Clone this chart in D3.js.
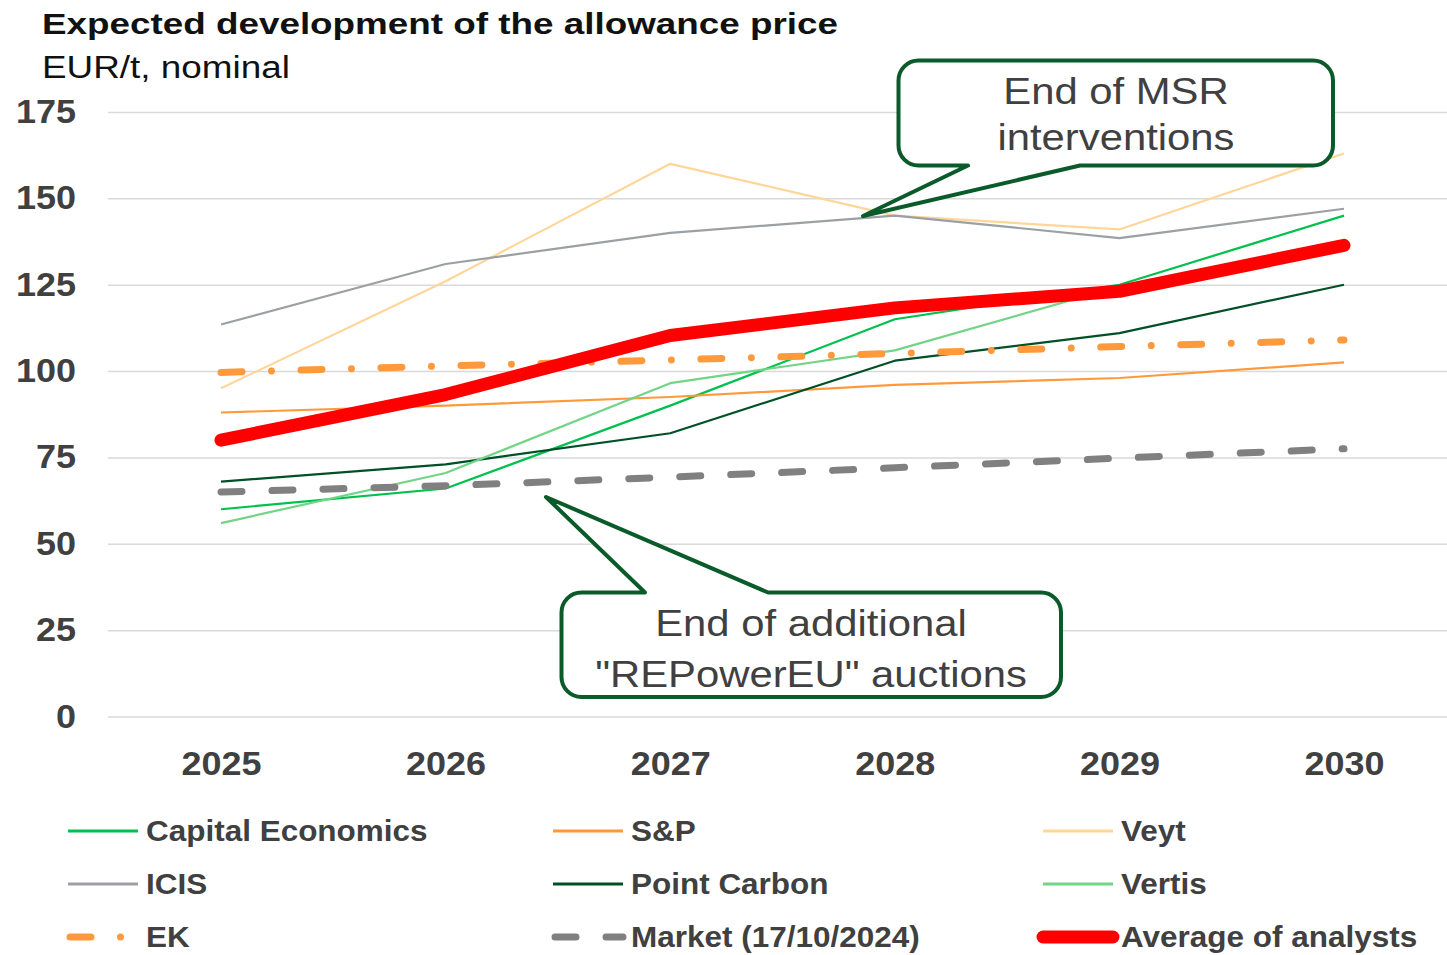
<!DOCTYPE html>
<html>
<head>
<meta charset="utf-8">
<script src="https://cdn.jsdelivr.net/npm/d3@7"></script>
<style>
  body { margin: 0; background: #fff; }
  svg { display: block; font-family: "Liberation Sans", Arial, sans-serif; }
</style>
</head>
<body>
<svg id="chart" width="1447" height="955"></svg>
<script>
// data
const years = ['2025', '2026', '2027', '2028', '2029', '2030'];
const yTicks = [0, 25, 50, 75, 100, 125, 150, 175];

const capitalEconomics = [60, 66, 90, 115, 125, 145];
const sAndP = [88, 90, 92.5, 96, 98, 102.5];
const veyt = [95, 126, 160, 145, 141, 163];
const icis = [113.5, 131, 140, 145, 138.5, 147];
const pointCarbon = [68, 73, 82, 103, 111, 125];
const vertis = [56, 70.5, 96.5, 106, 124.5, null];
const ek = [99.6, 101.5, 103.2, 105.1, 107.1, 109];
const market = [65, 66.8, 69.3, 72, 74.8, 77.5];
const average = [80, 93.2, 110.3, 118.3, 123.1, 136.4];

const seriesNames = ['Capital Economics', 'S&P', 'Veyt', 'ICIS', 'Point Carbon', 'Vertis',
  'EK', 'Market (17/10/2024)', 'Average of analysts'];

const series = [
  { name: seriesNames[0], values: capitalEconomics, color: '#00c04e', width: 2.2 },
  { name: seriesNames[1], values: sAndP, color: '#ff9a3c', width: 2.2 },
  { name: seriesNames[2], values: veyt, color: '#ffd699', width: 2.2 },
  { name: seriesNames[3], values: icis, color: '#9ba0a5', width: 2.2 },
  { name: seriesNames[4], values: pointCarbon, color: '#005027', width: 2.2 },
  { name: seriesNames[5], values: vertis, color: '#72d485', width: 2.2 },
  { name: seriesNames[6], values: ek, color: '#ff9a3c', width: 7, dash: '21,29.5,0.01,29.5' },
  { name: seriesNames[7], values: market, color: '#808080', width: 7, dash: '21,30' },
  { name: seriesNames[8], values: average, color: '#ff0000', width: 13 }
];

const svg = d3.select('#chart');
const textColor = '#404040';

// stretch text a bit wider, like the reference
function stretch(sel, k) {
  sel.each(function() {
    const w = this.getComputedTextLength();
    d3.select(this).attr('textLength', w * k).attr('lengthAdjust', 'spacingAndGlyphs');
  });
}

// scales
const x = d3.scalePoint().domain(years).range([221, 1344]);
const y = d3.scaleLinear().domain([0, 175]).range([716.5, 112]);

// title
svg.append('text')
  .attr('x', 42).attr('y', 34)
  .attr('font-size', 29).attr('font-weight', 'bold').attr('fill', '#111')
  .attr('textLength', 796).attr('lengthAdjust', 'spacingAndGlyphs')
  .text('Expected development of the allowance price');

svg.append('text')
  .attr('x', 42).attr('y', 78)
  .attr('font-size', 31).attr('fill', '#111')
  .attr('textLength', 248).attr('lengthAdjust', 'spacingAndGlyphs')
  .text('EUR/t, nominal');

// y axis + gridlines
const yAxis = svg.append('g')
  .attr('transform', 'translate(108,0)')
  .call(d3.axisLeft(y).tickValues(yTicks).tickSize(-1350).tickPadding(32));
yAxis.select('.domain').remove();
yAxis.selectAll('.tick line').attr('stroke', '#d9d9d9').attr('stroke-width', 1.5);
yAxis.selectAll('.tick text')
  .attr('font-size', 33).attr('font-weight', 'bold').attr('fill', textColor)
  .attr('font-family', '"Liberation Sans", Arial, sans-serif')
  .call(stretch, 1.09);

// x axis
const xAxis = svg.append('g')
  .attr('transform', 'translate(0,716.5)')
  .call(d3.axisBottom(x).tickSize(0).tickPadding(35));
xAxis.select('.domain').remove();
xAxis.selectAll('.tick text')
  .attr('font-size', 33).attr('font-weight', 'bold').attr('fill', textColor)
  .attr('font-family', '"Liberation Sans", Arial, sans-serif')
  .call(stretch, 1.09);

// lines
const line = d3.line()
  .defined(d => d != null)
  .x((d, i) => x(years[i]))
  .y(d => y(d));

svg.append('g')
  .selectAll('path')
  .data(series)
  .enter().append('path')
  .attr('d', d => line(d.values))
  .attr('fill', 'none')
  .attr('stroke', d => d.color)
  .attr('stroke-width', d => d.width)
  .attr('stroke-dasharray', d => d.dash || null)
  .attr('stroke-linecap', d => (d.dash || d.width > 10) ? 'round' : 'butt')
  .attr('stroke-linejoin', 'round');

// callouts
const calloutStroke = '#0b5a2a';

function calloutBottom(x0, y0, x1, y1, r, b1, b2, tip) {
  return `M${x0 + r},${y0} H${x1 - r} A${r},${r} 0 0 1 ${x1},${y0 + r} V${y1 - r}` +
    ` A${r},${r} 0 0 1 ${x1 - r},${y1} H${b2} L${tip[0]},${tip[1]} L${b1},${y1}` +
    ` H${x0 + r} A${r},${r} 0 0 1 ${x0},${y1 - r} V${y0 + r} A${r},${r} 0 0 1 ${x0 + r},${y0} Z`;
}

function calloutTop(x0, y0, x1, y1, r, b1, b2, tip) {
  return `M${x0 + r},${y0} H${b1} L${tip[0]},${tip[1]} L${b2},${y0} H${x1 - r}` +
    ` A${r},${r} 0 0 1 ${x1},${y0 + r} V${y1 - r} A${r},${r} 0 0 1 ${x1 - r},${y1}` +
    ` H${x0 + r} A${r},${r} 0 0 1 ${x0},${y1 - r} V${y0 + r} A${r},${r} 0 0 1 ${x0 + r},${y0} Z`;
}

svg.append('path')
  .attr('d', calloutBottom(898.5, 60.5, 1333, 165.5, 20, 968, 1080, [863, 216]))
  .attr('fill', '#fff').attr('stroke', calloutStroke).attr('stroke-width', 4)
  .attr('stroke-linejoin', 'round');

svg.append('path')
  .attr('d', calloutTop(561.5, 592.5, 1061, 697, 20, 645, 768, [546, 497]))
  .attr('fill', '#fff').attr('stroke', calloutStroke).attr('stroke-width', 4)
  .attr('stroke-linejoin', 'round');

const callText = [
  { text: 'End of MSR', x: 1116, y: 103.5 },
  { text: 'interventions', x: 1116, y: 150 },
  { text: 'End of additional', x: 811, y: 636 },
  { text: '"REPowerEU" auctions', x: 811, y: 687 }
];

svg.append('g')
  .selectAll('text')
  .data(callText)
  .enter().append('text')
  .attr('x', d => d.x).attr('y', d => d.y)
  .attr('text-anchor', 'middle')
  .attr('font-size', 37).attr('fill', textColor)
  .text(d => d.text)
  .call(stretch, 1.13);

// legend, 3 columns x 3 rows
const legendCols = [68, 553, 1043];
const legendRows = [831, 884, 937];

const legend = svg.append('g')
  .selectAll('g')
  .data(series)
  .enter().append('g')
  .attr('transform', (d, i) => `translate(${legendCols[i % 3]},${legendRows[Math.floor(i / 3)]})`);

legend.append('line')
  .attr('x1', d => d.dash ? 2 : 0)
  .attr('x2', 70)
  .attr('stroke', d => d.color)
  .attr('stroke-width', d => d.width > 10 ? 13 : (d.dash ? 7 : 3))
  .attr('stroke-dasharray', d => d.dash || null)
  .attr('stroke-linecap', d => (d.dash || d.width > 10) ? 'round' : 'butt');

legend.append('text')
  .attr('x', 78)
  .attr('dy', '0.36em')
  .attr('font-size', 29).attr('font-weight', 'bold').attr('fill', textColor)
  .text(d => d.name)
  .call(stretch, 1.085);
</script>
</body>
</html>
